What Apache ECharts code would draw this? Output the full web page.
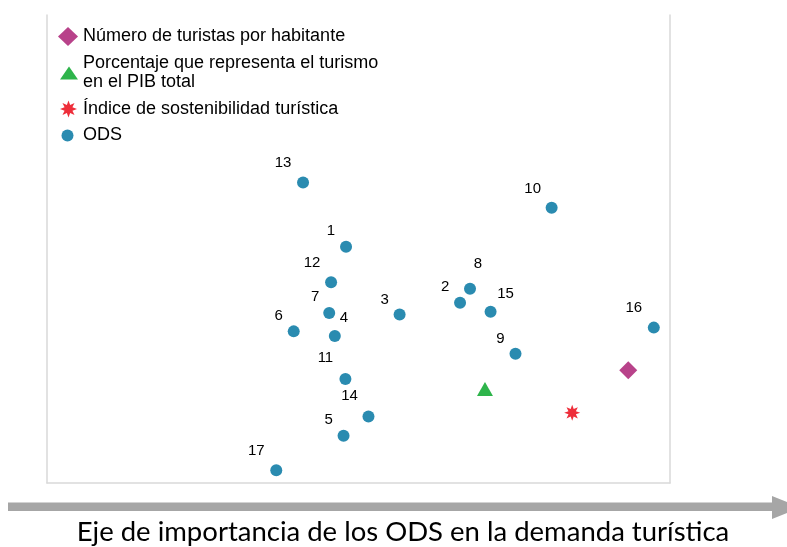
<!DOCTYPE html>
<html>
<head>
<meta charset="utf-8">
<script src="https://cdn.jsdelivr.net/npm/echarts@6/dist/echarts.min.js"></script>
<style>
html,body{margin:0;padding:0;background:#fff;}
#chart{width:787px;height:547px;}
</style>
</head>
<body>
<div id="chart"></div>
<script>
// ---- data ----
const seriesNames = [
  'Número de turistas por habitante',
  'Porcentaje que representa el turismo\nen el PIB total',
  'Índice de sostenibilidad turística',
  'ODS'
];
const odsLabels = ['1','2','3','4','5','6','7','8','9','10','11','12','13','14','15','16','17'];
const odsX = [48.0, 66.3, 56.6, 46.2, 47.6, 39.6, 45.3, 67.9, 75.2, 81.0, 47.9, 45.6, 41.1, 51.6, 71.2, 97.4, 36.8];
const odsY = [50.5, 38.5, 36.0, 31.4, 10.1, 32.4, 36.3, 41.5, 27.6, 58.8, 22.2, 42.9, 64.2, 14.2, 36.6, 33.2, 2.7];
const touristsPerInhabitant = [93.3, 24.1];
const tourismGdpShare = [70.3, 20.1];
const sustainabilityIndex = [84.3, 15.0];
const axisTitle = 'Eje de importancia de los ODS en la demanda turística';

// ---- layout / style (not data) ----
const labelOffsets = [
  [-15,-16],[-15,-16],[-15,-15],[9,-18],[-15,-16],[-15,-16],[-14,-16],[8,-25],[-15,-15],
  [-19,-19],[-20,-21],[-19,-19],[-20,-20],[-19,-21],[15,-18],[-20,-20],[-20,-20]
];
function starPath(n, ro, ri) {
  let d = '';
  for (let i = 0; i < n * 2; i++) {
    const r = i % 2 === 0 ? ro : ri;
    const a = Math.PI * i / n - Math.PI / 2;
    const x = (r * Math.cos(a)).toFixed(3), y = (r * Math.sin(a)).toFixed(3);
    d += (i === 0 ? 'M' : 'L') + x + ' ' + y + ' ';
  }
  return 'path://' + d + 'Z';
}
const STAR = starPath(8, 10, 5);
const colDiamond = '#b8428a', colTri = '#2eb44b', colStar = '#ee2e3a', colDot = '#2a8bb0';
const legendFont = { color: '#000', fontFamily: 'Liberation Sans', fontSize: 18, lineHeight: 19 };

const odsData = odsLabels.map((n, i) => ({
  name: n, value: [odsX[i], odsY[i]],
  label: { offset: labelOffsets[i] }
}));

const chart = echarts.init(document.getElementById('chart'), null, { renderer: 'canvas' });
const borderLine = { show: true, lineStyle: { color: '#d9d9d9', width: 1.5 } };
chart.setOption({
  animation: false,
  backgroundColor: '#fff',
  grid: { left: 47, right: 117, top: 15, bottom: 64 },
  xAxis: { type: 'value', min: 0, max: 100, axisLine: Object.assign({ onZero: false }, borderLine),
    axisTick: { show: false }, axisLabel: { show: false }, splitLine: { show: false } },
  yAxis: [
    { type: 'value', min: 0, max: 100, axisLine: borderLine, axisTick: { show: false },
      axisLabel: { show: false }, splitLine: { show: false } },
    { type: 'value', min: 0, max: 100, position: 'right', axisLine: borderLine, axisTick: { show: false },
      axisLabel: { show: false }, splitLine: { show: false } }
  ],
  legend: [
    { data: [{ name: seriesNames[0], icon: 'diamond' }], left: 58, top: 27, padding: 0,
      itemWidth: 20, itemHeight: 19, selectedMode: false, textStyle: legendFont },
    { data: [{ name: seriesNames[1], icon: 'triangle' }], left: 60, top: 54, padding: 0,
      itemWidth: 18, itemHeight: 13, selectedMode: false, textStyle: legendFont },
    { data: [{ name: seriesNames[2], icon: STAR }], left: 60, top: 99.5, padding: 0,
      itemWidth: 17, itemHeight: 17, selectedMode: false,
      textStyle: Object.assign({ padding: [0, 0, 0, 1] }, legendFont) },
    { data: [{ name: seriesNames[3], icon: 'circle' }], left: 61.5, top: 126, padding: 0,
      itemWidth: 12, itemHeight: 12, selectedMode: false,
      textStyle: Object.assign({ padding: [0, 0, 0, 4.5] }, legendFont) }
  ],
  series: [
    { name: seriesNames[0], type: 'scatter', symbol: 'diamond', symbolSize: 18,
      itemStyle: { color: colDiamond, opacity: 1 }, data: [touristsPerInhabitant] },
    { name: seriesNames[1], type: 'scatter', symbol: 'triangle', symbolSize: [16, 14],
      itemStyle: { color: colTri, opacity: 1 }, data: [tourismGdpShare] },
    { name: seriesNames[2], type: 'scatter', symbol: STAR, symbolSize: 16,
      itemStyle: { color: colStar, opacity: 1 }, data: [sustainabilityIndex] },
    { name: seriesNames[3], type: 'scatter', symbol: 'circle', symbolSize: 12,
      itemStyle: { color: colDot, opacity: 1 },
      label: { show: true, position: 'inside', formatter: p => p.name,
        color: '#000', fontFamily: 'Liberation Sans', fontSize: 15 },
      data: odsData }
  ],
  graphic: [
    { type: 'polygon', silent: true,
      shape: { points: [[8, 502.5], [772, 502.5], [772, 496], [801, 507.5], [772, 519], [772, 511], [8, 511]] },
      style: { fill: '#a6a6a6' } },
    { type: 'text', silent: true, x: 403, y: 532.5,
      style: { text: axisTitle, fill: '#000', font: '27.5px Lato', align: 'center', verticalAlign: 'middle' } }
  ]
});
</script>
</body>
</html>
